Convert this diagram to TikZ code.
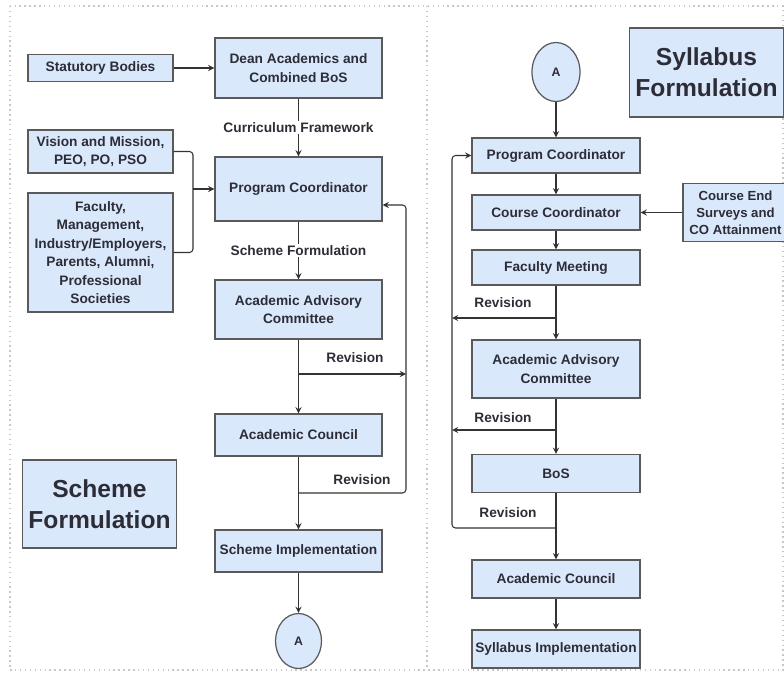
\documentclass[tikz,border=0pt]{standalone}
\usepackage{fontspec}
\setmainfont{Liberation Sans}
\usetikzlibrary{shapes.geometric}
\definecolor{boxblue}{RGB}{218,232,252}
\definecolor{boxedge}{RGB}{90,90,90}
\definecolor{framegray}{RGB}{200,200,200}
\definecolor{inkgray}{RGB}{45,45,55}
\tikzset{
  blk/.style={draw=boxedge, fill=boxblue, align=center, inner sep=1pt, line width=0.7pt,
    text=inkgray, font=\fontsize{7.8}{10.5}\selectfont\bfseries},
  wideblk/.style={blk, minimum width=3.34cm},
  colblk/.style={blk, minimum width=3.36cm, minimum height=0.7cm},
  sideblk/.style={blk, minimum width=2.9cm},
  titleblk/.style={draw=boxedge, fill=boxblue, align=center, line width=0.7pt,
    text=inkgray, font=\fontsize{14}{17.5}\selectfont\bfseries},
  conn/.style={ellipse, draw=boxedge, fill=boxblue, line width=0.7pt, inner sep=0pt,
    text=inkgray, font=\fontsize{7}{8}\selectfont\bfseries},
  arr/.style={->, >=stealth, draw=black!80, line width=0.6pt},
  lbl/.style={fill=white, inner sep=1pt, text=inkgray, font=\fontsize{7.8}{9}\selectfont\bfseries}
}
\begin{document}
\begin{tikzpicture}[x={(0.02cm,0)}, y={(0,-0.02cm)}]
  \useasboundingbox (0,0) rectangle (784,682);
  \draw[framegray, dotted, line width=0.8pt] (10,6) rectangle (783,670);
  \draw[framegray, dotted, line width=0.8pt] (427,6) -- (427,670);

  % scheme formulation
  \node[sideblk, minimum height=0.54cm] (stat) at (100.5,68) {Statutory Bodies};
  \node[wideblk, minimum height=1.2cm] (dean) at (298.5,68) {Dean Academics and\\Combined BoS};
  \node[sideblk, minimum height=0.86cm] (vis) at (100.5,151.5) {Vision and Mission,\\PEO, PO, PSO};
  \node[wideblk, minimum height=1.28cm] (pcl) at (298.5,189) {Program Coordinator};
  \node[sideblk, minimum height=2.38cm] (fac) at (100.5,252.5)
    {Faculty,\\Management,\\Industry/Employers,\\Parents, Alumni,\\Professional\\Societies};
  \node[wideblk, minimum height=1.18cm] (aacl) at (298.5,309.5) {Academic Advisory\\Committee};
  \node[wideblk, minimum height=0.84cm] (acl) at (298.5,435) {Academic Council};
  \node[wideblk, minimum height=0.84cm] (sil) at (298.5,551) {Scheme Implementation};
  \node[conn, minimum width=0.92cm, minimum height=1.1cm] (al) at (298.5,641) {A};
  \node[titleblk, minimum width=3.0cm, minimum height=1.76cm] (tl) at (99.5,504) {Scheme\\Formulation};

  \coordinate (jn) at (193,189);
  \coordinate (rl1) at (298.5,374);
  \coordinate (fl1) at (406,374);
  \coordinate (rl2) at (298.5,493);
  \coordinate (fl2) at (406,493);

  \draw[arr] (stat) -- (dean);
  \draw[arr] (dean) -- node[lbl] {Curriculum Framework} (pcl);
  \draw[arr, -, rounded corners=2pt] (vis.east) -| (jn);
  \draw[arr, -, rounded corners=2pt] (fac.east) -| (jn);
  \draw[arr] (jn) -- (pcl.west |- jn);
  \draw[arr] (pcl) -- node[lbl] {Scheme Formulation} (aacl);
  \draw[arr] (aacl) -- (acl);
  \draw[arr] (acl) -- (sil);
  \draw[arr] (sil) -- (al);
  \draw[arr] (rl1) -- (fl1);
  \draw[arr, rounded corners=2pt] (rl2) -- (fl2) |- ([yshift=-0.32cm]pcl.east);
  \node[lbl, fill=none] at (355,358) {Revision};
  \node[lbl, fill=none] at (362,480) {Revision};

  % syllabus formulation
  \node[conn, minimum width=0.96cm, minimum height=1.18cm] (ar) at (556,72) {A};
  \node[titleblk, minimum width=2.98cm, minimum height=1.78cm] (tr) at (706.5,72.5) {Syllabus\\Formulation};
  \node[colblk] (pcr) at (556,155.5) {Program Coordinator};
  \node[colblk] (ccr) at (556,212.5) {Course Coordinator};
  \node[blk, minimum width=2.1cm, minimum height=1.16cm, font=\fontsize{7.5}{9.6}\selectfont\bfseries]
    (ces) at (735.5,212.5) {Course End\\Surveys and\\CO Attainment};
  \node[colblk] (fmr) at (556,267.5) {Faculty Meeting};
  \node[colblk, minimum height=1.16cm] (aacr) at (556,369) {Academic Advisory\\Committee};
  \node[colblk, minimum height=0.76cm] (bosr) at (556,473.5) {BoS};
  \node[colblk, minimum height=0.76cm] (acr) at (556,579) {Academic Council};
  \node[colblk, minimum height=0.76cm] (sir) at (556,649) {Syllabus Implementation};

  \coordinate (rr1) at (556,318);
  \coordinate (fr1) at (452,318);
  \coordinate (rr2) at (556,430);
  \coordinate (fr2) at (452,430);
  \coordinate (rr3) at (556,528);
  \coordinate (fr3) at (452,528);

  \draw[arr] (ar) -- (pcr);
  \draw[arr] (pcr) -- (ccr);
  \draw[arr] (ces) -- (ccr);
  \draw[arr] (ccr) -- (fmr);
  \draw[arr] (fmr) -- (aacr);
  \draw[arr] (aacr) -- (bosr);
  \draw[arr] (bosr) -- (acr);
  \draw[arr] (acr) -- (sir);
  \draw[arr] (rr1) -- (fr1);
  \draw[arr] (rr2) -- (fr2);
  \draw[arr, rounded corners=2pt] (rr3) -- (fr3) |- (pcr.west);
  \node[lbl, fill=none] at (503,303) {Revision};
  \node[lbl, fill=none] at (503,418) {Revision};
  \node[lbl, fill=none] at (508,513) {Revision};
\end{tikzpicture}
\end{document}
